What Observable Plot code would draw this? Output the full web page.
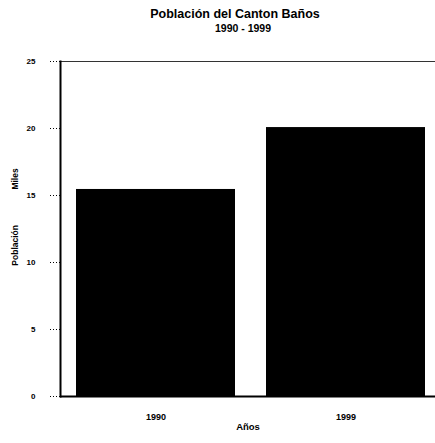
<!DOCTYPE html>
<html><head><meta charset="utf-8">
<script src="https://cdn.jsdelivr.net/npm/d3@7"></script>
<script src="https://cdn.jsdelivr.net/npm/@observablehq/plot@0.6"></script>
<style>
body{margin:0;background:#fff;font-family:"Liberation Sans",Arial,sans-serif;overflow:hidden}
#t{width:435px;height:38px;position:relative}
.t1{position:absolute;left:35px;right:0;top:8px;text-align:center;font-size:12.5px;line-height:13px;font-weight:bold}
.t2{position:absolute;left:51px;right:0;top:22px;text-align:center;font-size:10.5px;line-height:12px;font-weight:bold}
</style></head><body>
<div id="t"><div class="t1">Población del Canton Baños</div><div class="t2">1990 - 1999</div></div>
<div id="c"></div>
<script>
const years = ["1990", "1999"];
const poblacion = [15.45, 20.07];
const yTicks = [0, 5, 10, 15, 20, 25];
const xTitle = "Años";
const yTitle = "Población" + "\u00a0".repeat(15) + "Miles";

const data = years.map((y, i) => ({year: y, pob: poblacion[i]}));

const chart = Plot.plot({
  width: 435, height: 405,
  marginLeft: 60, marginRight: 0, marginTop: 23, marginBottom: 47,
  style: {fontFamily: "Liberation Sans, Arial, sans-serif", fontWeight: "bold", background: "#fff"},
  x: {domain: years, paddingInner: 0.162, paddingOuter: 0.0628, align: 0.625, label: null},
  y: {domain: [0, 25], label: null},
  marks: [
    Plot.barY(data, {x: "year", y: "pob", fill: "black"}),
    Plot.axisY({ticks: yTicks, tickSize: 12, tickPadding: 13, strokeDasharray: "1,2", fontSize: 8, label: null}),
    Plot.axisX({tickSize: 0, tickPadding: 17, fontSize: 9, label: null}),
    Plot.text([xTitle], {frameAnchor: "bottom", dy: 27, fontSize: 9.5, fontWeight: "bold", lineAnchor: "top"}),
    Plot.text([yTitle], {frameAnchor: "left", textAnchor: "middle", dx: -45, dy: -12, rotate: -90, fontSize: 8.5, fontWeight: "bold"}),
    Plot.frame({anchor: "top", stroke: "#333"}),
    Plot.frame({anchor: "left", strokeWidth: 2}),
    Plot.ruleY([0], {strokeWidth: 2})
  ]
});
document.getElementById("c").appendChild(chart);
</script>
</body></html>
